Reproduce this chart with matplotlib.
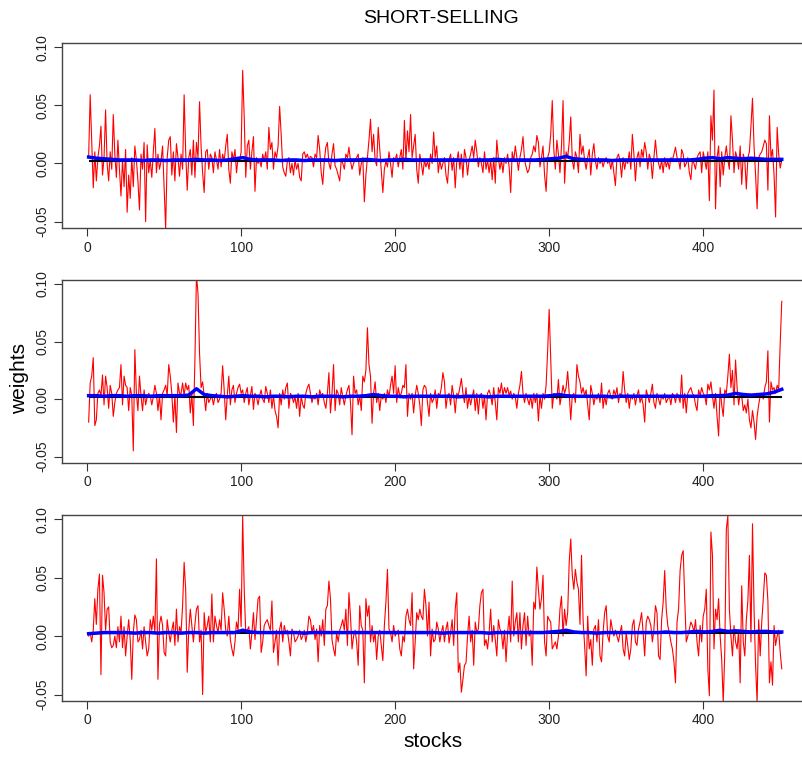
import numpy as np
import matplotlib
matplotlib.use("Agg")
import matplotlib.pyplot as plt

plt.rcParams['font.family'] = ['Liberation Sans', 'DejaVu Sans']

# portfolio weights, in units of 0.001, for stocks 1..451
red_top = [
    5, 59, 20, -21, 10, -15, 5, 15, 32, -10, 5, 46, 0, -15, 10, -5, 42, 8, -12, 20,
    -5, -28, 3, -20, 12, -42, -10, -30, 5, -20, 15, 3, -15, -40, 8, -5, 18, -50, 16, -8,
    3, -12, 10, 30, -8, 8, -5, 2, 15, -20, -56, 5, 20, 23, -10, 10, -15, 17, 5, -11,
    8, -5, 59, 10, -23, 5, 12, -10, 20, -12, 18, 5, 53, 15, -8, -25, 10, 12, -5, 8,
    5, -8, 10, 3, -5, 12, -3, 8, 2, 15, 25, -5, -17, 10, 3, 12, -8, 5, 2, 10,
    80, 40, -12, 15, 20, -5, 10, 23, -24, 5, 0, 3, -3, 8, 2, 10, -5, 31, 12, 18,
    -5, 10, 5, 15, 49, 25, -3, -8, -11, 2, 5, -8, 0, -10, 3, -5, 0, -12, -15, 8,
    10, 5, 8, 3, 6, 5, -3, 8, 5, 24, 12, -8, -18, 2, 14, 18, 0, -5, 8, 17,
    -2, -5, -10, -15, 3, 0, -5, 8, 5, 14, 2, -5, 0, 3, 5, 8, -10, 0, 5, -33,
    -10, 5, 20, 38, 10, 25, 3, -2, 31, 12, -8, -25, -5, 2, -3, 10, 0, -12, 5, 3,
    8, -3, 5, 12, -5, 37, 2, 28, 10, 42, 5, 15, 25, -5, -17, 8, 0, -10, 3, -3,
    2, -5, 8, 0, 27, 5, 15, -8, 3, -5, 0, 5, -10, -17, 3, 8, -6, 5, -21, 2,
    10, -5, 8, -12, 12, 5, -10, 3, 8, 15, 5, 20, 10, -3, 5, 0, -8, 10, -5, 3,
    -8, 3, -14, 5, -17, 20, 5, -5, 3, -8, 5, 0, 8, -3, -25, 10, 2, 15, 5, -6,
    5, 12, 23, 3, -3, -8, -5, 5, 8, 15, 10, 24, 18, -3, 5, 15, -10, -24, 5, 10,
    25, 54, 12, -5, 20, 8, -8, 15, 54, -17, 10, 5, 18, 40, 3, -5, 10, 5, -8, 25,
    8, 15, 3, -5, 5, 12, -10, 8, 17, 2, -5, 5, 0, 3, -3, 2, 5, 0, 3, -5,
    3, -8, -19, 5, 8, 2, -12, 5, -5, 3, 0, 10, -5, 25, 8, -15, 5, 10, -3, 12,
    5, 18, 10, -5, 8, 3, -13, 5, 20, 5, 0, -5, 3, -8, 5, -3, 2, -5, 5, 3,
    8, 14, 5, 3, -5, 12, 8, -3, 0, 5, -8, -14, 3, 0, -5, 5, 8, 10, -8, 10,
    3, -5, 10, -32, 41, 20, 63, -39, 5, 15, -20, 10, -10, 5, 15, 3, -5, 41, 20, -8,
    10, 5, -5, 15, -18, 8, 3, -22, 5, 10, 32, 56, 15, -10, -39, 5, 8, 10, 15, 20,
    17, -23, 41, 5, 12, -10, -46, 31, 8, -4, 3,
]
red_mid = [
    -20, 14, 20, 36, -23, -18, 5, 8, 3, 21, -5, 20, 10, -8, 12, 5, -15, -3, 5, 8,
    10, 30, -5, 20, 12, 10, -10, 10, 3, -45, 43, 5, -10, 20, 3, -10, 8, -5, 2, 5,
    3, -5, 2, 12, 5, -10, 3, -18, 5, 8, 12, 3, 30, 20, 5, -20, 3, -29, 14, 5,
    5, 14, 3, 14, 8, 12, -12, 5, -23, 34, 108, 92, 40, 10, 15, 3, -10, 5, -3, 0,
    3, -5, 2, 5, -3, 0, 5, 29, 8, -18, 3, 20, -5, 8, 12, -3, 5, 10, 13, 5,
    8, -3, 5, 10, -5, 3, 11, -9, 5, 2, -5, 3, 8, 0, -3, 11, 5, -3, 8, -8,
    3, -10, -15, -25, 5, -5, 8, 0, 10, 14, -8, 5, 3, -3, 2, -8, 5, -15, 3, -5,
    -8, 5, 10, 13, 5, -3, 3, 0, 5, -5, 8, 3, 5, -3, -8, 5, 23, -12, 5, 30,
    -10, 8, 5, -5, 10, 2, -5, 3, 8, 12, -3, -31, 20, 5, 8, -5, 3, -10, 20, 15,
    25, 62, 30, 20, -21, 5, 15, -3, 5, -10, 3, 0, 5, -3, 8, 2, 12, 20, 5, 29,
    -3, 10, 3, 5, 12, 10, 30, -15, 5, 0, 5, -12, 3, 12, 5, -5, -23, 8, 12, 10,
    -3, -15, 5, -3, 0, 8, -8, 5, 3, 10, 23, 15, -8, 3, 5, -5, 12, 3, -12, 5,
    3, 10, 18, 5, -3, 10, -8, 3, -5, 2, 8, -10, 5, -13, 3, 5, -8, 3, -18, 5,
    8, 3, -5, 10, -3, -18, 10, 5, 14, 3, 10, 5, 10, 3, 7, 0, 5, 2, -8, 5,
    12, 24, 5, -3, 5, 0, -5, 3, -8, 5, -3, 5, -19, 3, -8, 5, 0, 12, 42, 78,
    34, -8, 5, 3, 0, 17, -5, 3, 12, 5, 10, 24, 5, -18, 3, 5, -3, 30, 20, 15,
    5, 10, 3, 8, -5, -18, 12, 5, -5, 3, 0, 5, -3, 14, -8, 3, -5, 5, 8, 2,
    0, 8, 3, 10, -3, 5, 2, 24, 8, -3, 5, -8, 3, 0, 5, -5, 3, 8, -3, 2,
    -5, -20, 8, 3, -3, 5, 13, -3, -8, 5, 0, -5, 3, 0, 5, -3, 0, 3, -5, 5,
    3, -3, 5, 2, -3, 21, -8, 5, -12, 5, 8, 10, 5, 3, -5, -10, 8, 3, 10, 5,
    3, -5, 13, 8, 15, 3, -8, 5, -15, -32, 10, -5, -15, 8, 5, 20, 39, 10, 25, -5,
    34, 10, -5, 5, 3, -10, -5, -12, 0, -18, -25, -10, -20, -35, -15, -5, 3, 5, 0, 10,
    15, 42, -20, 15, 8, 10, 5, 12, 8, 49, 85,
]
red_bot = [
    0, 3, -5, 5, 32, 10, 40, 53, -33, 52, 37, 5, 23, 25, -5, -10, -8, 0, -10, 8,
    -5, 17, -10, 8, -17, 0, 14, -3, -37, 3, 18, 14, -5, -3, 5, -11, 8, -5, -17, -11,
    14, 5, 17, 3, 66, -37, 10, 17, 9, -14, -17, 14, 3, -5, 5, 12, -8, 23, -5, 8,
    3, 26, 63, 40, -31, 5, 23, 9, -5, 10, 23, 26, -5, 5, -50, 20, 3, 9, 17, -5,
    36, -5, 17, 9, 3, 14, 5, 37, 23, 5, 0, 17, -3, -11, -17, -5, 12, 5, 40, 8,
    103, 40, 3, 5, 8, -11, 3, 20, -3, 14, 32, 34, -14, -5, 9, 12, 14, 9, 5, 30,
    -14, -5, 5, -25, 6, 12, -5, 9, 3, 5, -5, -17, 6, 3, -5, -3, 0, 5, -3, 0,
    5, -5, 3, 17, 14, 3, 9, -3, 6, -22, 9, 0, 14, -8, 23, 26, 47, 32, -3, -11,
    -17, 3, -5, 5, 9, 14, 5, 23, -8, 37, 17, -11, 0, 5, -5, -25, 26, 9, 5, -40,
    32, 17, 26, -5, 9, -5, 3, -20, 0, 5, -8, -21, 9, 29, 57, 6, 3, -5, 9, 0,
    3, 5, -11, -17, 0, -5, 17, 23, 14, 9, 37, -28, -5, 20, 14, 23, 17, 14, 40, 26,
    0, 29, -17, 6, -5, -3, 12, 6, -5, 3, 9, -5, 6, 12, -6, 3, 14, -8, 23, 37,
    -31, -23, -48, -37, -25, -23, 0, 17, -5, 5, -25, 12, 3, 6, 26, 37, 40, -8, -3, -11,
    3, 23, -5, 9, -3, -17, 14, 6, 3, -11, 5, -22, 3, 17, -5, 47, 0, 12, 20, -5,
    20, -11, 9, 20, -8, 17, 0, 5, -25, 29, 23, 59, 40, 23, 32, 52, -5, -17, 17, 14,
    12, -11, -8, -5, -11, 0, 23, 34, 0, 23, 9, 20, 63, 83, 52, 40, 57, 46, 40, 10,
    69, 14, -8, -34, 17, -11, -3, -25, 6, 9, -5, 14, -17, -22, 3, 20, 26, 0, -5, 14,
    6, 0, 5, 0, -5, 3, 9, -11, -17, 3, -8, -20, -11, 9, 14, -5, -8, 6, 12, 20,
    3, -17, 12, 17, 14, 9, -5, 6, 26, 20, -17, -20, 14, 29, 56, 23, 9, 3, -5, -11,
    -22, -40, 12, 23, 56, 69, 73, 32, -5, 0, 6, 12, 9, 3, 14, -5, -17, 9, -5, 17,
    23, 40, -28, -51, 89, 69, -11, 23, 14, 32, 0, -20, -57, -14, 91, 103, 23, 0, -17, 9,
    -5, -11, 5, -40, 43, -5, -17, 14, 30, 69, -5, 96, 23, -25, -57, 14, -17, 12, 32, 54,
    52, 30, -40, -22, -42, 9, -8, 0, 5, -14, -28,
]

# second portfolio, read every 5th stock (1, 6, ..., 451), units of 0.001
blue_top = [
    5.5, 4.5, 4, 3.5, 3, 3, 3, 2.5, 3, 3, 2.5, 3, 3, 3, 3.5, 3, 3, 2.5, 3, 4,
    5, 3.5, 3, 3, 3, 2.5, 3, 3, 2.5, 3, 3, 3, 2.5, 3, 3, 3, 3.5, 3, 2.5, 3,
    3, 3.5, 3, 3, 3, 3,
    3, 3, 3, 2.5, 3, 3, 3, 3.5, 3, 3, 3, 3, 3, 3.5, 4, 4.5, 6, 4, 3.5, 3,
    3, 3, 2.5, 3, 3, 3, 3, 3, 3, 3, 3, 3, 3, 3.5, 4.5, 5, 4, 5, 4.5, 4,
    4.5, 4, 3.5, 3.5, 3.5,
]
blue_mid = [
    3, 3, 2.5, 3, 3, 2.5, 3, 3, 2.5, 3, 3, 3, 3, 3.5, 9, 4, 3, 2.5, 2, 2.5,
    3, 2.5, 2.5, 2, 2.5, 2.5, 2, 2.5, 2.5, 2, 2.5, 2.5, 2.5, 2, 2.5, 2.5, 3, 4, 3, 2.5,
    2.5, 2, 2.5, 2.5, 2.5, 2.5,
    2.5, 2.5, 2, 2.5, 2.5, 2.5, 2, 2.5, 2.5, 2.5, 2.5, 2.5, 2.5, 2.5, 3, 4, 3, 2.5, 2.5, 2.5,
    2.5, 2.5, 2, 2.5, 2.5, 2.5, 2.5, 2.5, 2.5, 2.5, 2.5, 2.5, 2.5, 2.5, 2.5, 3, 3, 3.5, 5, 4,
    3.5, 4, 4.5, 6, 8.5,
]
blue_bot = [
    2, 2.5, 3, 3, 3, 3, 2.5, 3, 3, 2.5, 3, 3, 2.5, 3, 3, 2.5, 3, 3, 3, 3,
    5, 3.5, 3, 3, 3, 3, 3, 3, 2.5, 3, 3, 3, 3, 3, 3, 3, 3, 3, 3, 3,
    3, 3, 3, 3, 3, 3,
    2.5, 3, 3, 3, 3, 3, 2.5, 3, 3, 3, 3, 3, 3, 3, 3.5, 4, 5, 3.5, 3, 3,
    2.5, 3, 3, 3, 3, 3, 3, 3, 3, 3.5, 3, 3, 3.5, 4, 3.5, 4, 5, 4, 4.5, 4,
    3.5, 4, 4, 3.5, 3.5,
]

ew_weight = 0.0022  # equal weight reference line
x_ticks = [0, 100, 200, 300, 400]
y_ticks = [-0.05, 0.00, 0.05, 0.10]
y_ticklabels = ["-0.05", "0.00", "0.05", "0.10"]

stocks = np.arange(1, len(red_top) + 1)
blue_stocks = stocks[::5]

fig = plt.figure(figsize=(8.03, 7.57), dpi=100)

# (left, bottom, width, height) in figure fractions, matched to the reference
boxes = [
    (0.0772, 0.6988, 0.928, 0.2444),
    (0.0772, 0.3884, 0.928, 0.2417),
    (0.0772, 0.0740, 0.928, 0.2457),
]
panels = [(red_top, blue_top), (red_mid, blue_mid), (red_bot, blue_bot)]

for box, (red, blue) in zip(boxes, panels):
    ax = fig.add_axes(box)
    ax.plot(stocks, np.array(red) / 1000, color='red', lw=0.8)
    ax.hlines(ew_weight, stocks[0], stocks[-1], color='black', lw=1.5)
    ax.plot(blue_stocks, np.array(blue) / 1000, color='blue', lw=2.5)
    ax.set_xlim(-16.3, 467.5)
    ax.set_ylim(-0.0555, 0.1035)
    ax.set_xticks(x_ticks)
    ax.set_xticklabels([str(t) for t in x_ticks], fontsize=10, color='#222222')
    ax.set_yticks(y_ticks)
    ax.set_yticklabels(y_ticklabels, rotation=90, va='center', fontsize=10, color='#222222')
    ax.tick_params(direction='out', length=6, width=0.8, color='#333333', pad=3)
    for sp in ax.spines.values():
        sp.set_color('#444444')
        sp.set_linewidth(1.0)

fig.text(0.549, 0.975, "SHORT-SELLING", ha='center', va='center', fontsize=14)
fig.text(0.539, 0.020, "stocks", ha='center', va='center', fontsize=15)
fig.text(0.024, 0.500, "weights", ha='center', va='center', rotation=90, fontsize=15)

fig.savefig("out.png", dpi=100)
